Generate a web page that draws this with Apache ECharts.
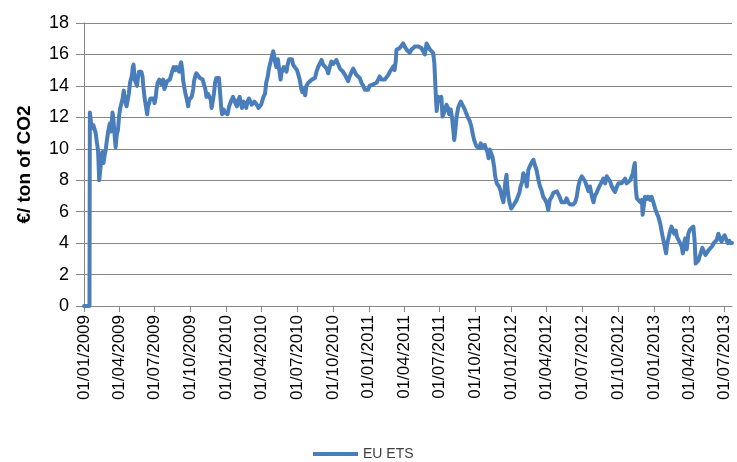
<!DOCTYPE html>
<html>
<head>
<meta charset="utf-8">
<script src="https://cdn.jsdelivr.net/npm/echarts@6/dist/echarts.min.js"></script>
<style>
  html, body { margin: 0; padding: 0; background: #fff; }
  #chart { width: 737px; height: 462px; }
</style>
</head>
<body>
<div id="chart"></div>
<script>
// EU ETS price, days counted from 01/01/2009
var startYear = 2009;
var dayOffsets = [
  0, 14, 15, 18, 21, 24, 27, 30, 33, 36, 39, 42, 44, 47, 50, 53, 56, 59, 62, 66,
  69, 73, 75, 78, 81, 84, 87, 90, 93, 96, 99, 102, 104, 107, 109, 112, 115, 118, 121, 123,
  125, 127, 130, 133, 136, 138, 141, 144, 147, 150, 152, 155, 158, 162, 164, 167, 170, 173, 175, 178,
  181, 184, 186, 189, 193, 196, 199, 203, 206, 210, 213, 217, 220, 223, 227, 230, 234, 237, 240, 244,
  247, 249, 252, 254, 257, 261, 264, 267, 269, 273, 276, 280, 282, 285, 288, 291, 293, 297, 300, 304,
  307, 311, 314, 318, 321, 325, 327, 330, 333, 336, 339, 343, 346, 349, 352, 354, 358, 361, 364, 368,
  372, 375, 378, 382, 385, 388, 392, 395, 399, 402, 405, 409, 412, 416, 419, 423, 426, 430, 434, 437,
  440, 443, 447, 450, 454, 457, 460, 464, 467, 471, 474, 478, 481, 485, 487, 490, 493, 497, 500, 504,
  506, 509, 512, 516, 519, 522, 526, 529, 533, 536, 540, 543, 546, 550, 553, 557, 560, 564, 567, 570,
  575, 580, 584, 588, 592, 596, 600, 605, 609, 613, 617, 622, 626, 630, 634, 639, 643, 647, 651, 656,
  660, 664, 669, 673, 677, 681, 686, 690, 694, 698, 703, 707, 711, 716, 720, 724, 728, 732, 737, 741,
  745, 750, 754, 758, 763, 767, 771, 776, 780, 784, 788, 793, 796, 799, 801, 805, 809, 814, 818, 822,
  827, 831, 835, 839, 844, 848, 853, 857, 861, 865, 870, 874, 878, 882, 887, 891, 895, 898, 900, 902,
  904, 906, 909, 912, 916, 919, 922, 926, 929, 933, 936, 940, 943, 947, 949, 952, 955, 959, 962, 966,
  969, 972, 976, 979, 983, 986, 989, 993, 996, 1000, 1003, 1006, 1010, 1013, 1017, 1020, 1024, 1027, 1030, 1034,
  1037, 1040, 1044, 1047, 1051, 1054, 1058, 1061, 1064, 1068, 1071, 1075, 1078, 1080, 1083, 1085, 1088, 1091, 1095, 1098,
  1102, 1105, 1109, 1112, 1116, 1119, 1123, 1126, 1129, 1132, 1135, 1139, 1143, 1147, 1152, 1156, 1160, 1165, 1169, 1173,
  1177, 1182, 1186, 1190, 1194, 1199, 1203, 1207, 1212, 1216, 1220, 1224, 1229, 1233, 1237, 1241, 1246, 1250, 1254, 1259,
  1263, 1267, 1271, 1276, 1280, 1284, 1289, 1293, 1297, 1302, 1306, 1310, 1314, 1318, 1323, 1327, 1331, 1336, 1340, 1344,
  1349, 1353, 1357, 1361, 1366, 1370, 1374, 1378, 1383, 1387, 1391, 1395, 1400, 1404, 1407, 1410, 1412, 1414, 1417, 1421,
  1426, 1430, 1432, 1435, 1438, 1442, 1446, 1451, 1455, 1460, 1464, 1468, 1472, 1477, 1481, 1485, 1490, 1492, 1495, 1499,
  1502, 1506, 1510, 1513, 1517, 1520, 1524, 1528, 1532, 1535, 1538, 1541, 1545, 1549, 1553, 1557, 1562, 1565, 1568, 1571,
  1575, 1578, 1582, 1585, 1589, 1593, 1597, 1601, 1605, 1610, 1614, 1618, 1622, 1626, 1630, 1634, 1638, 1642, 1646, 1650,
  1654, 1657, 1661
];
var prices = [
  0, 0, 12.3, 11.7, 11.3, 11.5, 11.4, 11.0, 10.4, 9.9, 8.0, 8.1, 9.2, 9.8, 9.1, 9.6, 10.0, 10.6, 11.1, 11.6,
  11.1, 12.3, 12.0, 11.0, 10.1, 10.9, 11.2, 12.1, 12.6, 12.9, 13.2, 13.7, 13.3, 12.9, 12.7, 13.1, 13.5, 14.2, 14.3, 14.7,
  15.2, 15.35, 14.4, 14.3, 14.0, 14.5, 14.9, 14.8, 14.9, 14.6, 14.0, 13.3, 12.8, 12.2, 12.7, 12.9, 13.2, 13.1, 13.3, 13.2,
  12.9, 13.3, 13.8, 14.2, 14.4, 14.3, 14.1, 14.4, 13.8, 13.9, 14.3, 14.2, 14.4, 14.5, 15.0, 15.2, 15.0, 15.2, 15.1, 14.9,
  15.35, 15.5, 15.0, 14.4, 13.9, 13.4, 13.1, 12.7, 13.1, 13.0, 13.3, 13.8, 14.3, 14.6, 14.8, 14.9, 14.7, 14.5, 14.6, 14.4,
  14.3, 13.8, 13.3, 13.5, 13.4, 13.1, 12.6, 13.0, 13.5, 14.2, 14.5, 14.4, 14.5, 13.5, 12.5, 12.2, 12.5, 12.3, 12.4, 12.2,
  12.7, 12.9, 13.1, 13.3, 13.2, 12.9, 12.7, 13.1, 13.3, 12.9, 12.6, 13.0, 12.8, 12.6, 13.0, 13.2, 13.1, 12.8, 12.7, 13.0,
  12.9, 12.8, 12.6, 12.5, 12.8, 12.9, 13.3, 13.5, 14.2, 14.6, 15.1, 15.5, 15.8, 16.2, 16.0, 15.5, 15.2, 15.7, 15.1, 14.4,
  14.8, 14.9, 15.2, 15.1, 14.9, 15.35, 15.7, 15.75, 15.7, 15.35, 15.2, 15.1, 15.0, 14.9, 14.4, 13.8, 13.6, 13.8, 13.4, 14.0,
  14.2, 14.3, 14.4, 14.4, 14.5, 14.9, 15.2, 15.45, 15.65, 15.35, 15.35, 15.1, 14.8, 15.2, 15.55, 15.4, 15.45, 15.65, 15.4, 15.1,
  15.0, 14.9, 14.7, 14.5, 14.3, 14.6, 14.9, 15.1, 14.9, 14.7, 14.7, 14.5, 14.2, 14.0, 13.75, 13.65, 13.75, 14.0, 13.9, 14.1,
  14.0, 14.2, 14.4, 14.6, 14.4, 14.3, 14.4, 14.5, 14.7, 14.9, 14.9, 15.25, 15.0, 15.55, 16.3, 16.3, 16.4, 16.5, 16.7, 16.5,
  16.3, 16.2, 16.1, 16.3, 16.2, 16.5, 16.6, 16.5, 16.6, 16.4, 16.3, 16.0, 16.7, 16.6, 16.3, 16.2, 16.1, 15.45, 14.4, 13.3,
  12.4, 12.9, 13.3, 13.1, 13.3, 12.05, 11.95, 12.5, 12.8, 12.6, 12.2, 12.5, 12.05, 11.1, 10.55, 11.2, 12.05, 12.6, 12.8, 13.0,
  13.1, 12.7, 12.5, 12.3, 12.05, 11.95, 11.75, 11.4, 11.0, 10.55, 10.45, 10.15, 10.25, 10.05, 10.35, 10.05, 10.15, 10.25, 10.15, 9.8,
  9.4, 9.95, 10.05, 9.5, 8.9, 8.25, 7.8, 7.9, 7.6, 7.3, 6.95, 6.6, 7.3, 7.9, 8.35, 7.6, 6.95, 6.55, 6.2, 6.1,
  6.45, 6.55, 6.75, 6.95, 7.2, 7.6, 7.9, 8.45, 8.5, 8.1, 7.6, 8.65, 8.9, 9.1, 9.3, 8.95, 8.65, 8.0, 7.6, 7.35,
  6.95, 6.75, 6.55, 6.1, 6.75, 6.95, 7.2, 7.1, 7.3, 7.4, 6.9, 6.6, 6.55, 6.6, 6.85, 6.6, 6.45, 6.35, 6.45, 6.6,
  6.95, 7.6, 8.0, 8.25, 8.25, 7.95, 7.6, 7.3, 7.6, 6.95, 6.6, 7.05, 7.2, 7.45, 7.7, 7.9, 8.1, 7.8, 8.25, 8.25,
  7.9, 7.6, 7.4, 7.25, 7.6, 7.8, 7.7, 7.8, 7.9, 8.1, 7.8, 7.7, 8.0, 8.25, 8.45, 8.9, 9.1, 7.6, 6.85, 6.75,
  6.6, 6.75, 5.8, 6.4, 6.95, 6.8, 6.95, 6.75, 6.95, 6.55, 6.2, 5.9, 5.7, 5.25, 4.7, 4.2, 3.6, 3.35, 4.0, 4.4,
  4.75, 5.05, 5.0, 4.6, 4.8, 4.4, 4.3, 4.0, 3.8, 3.35, 4.0, 4.3, 3.6, 4.6, 4.85, 4.95, 5.05, 4.2, 2.7, 2.75,
  2.9, 3.15, 3.05, 3.7, 3.6, 3.25, 3.35, 3.55, 3.45, 3.8, 4.0, 4.0, 4.2, 4.6, 4.5, 4.1, 4.2, 4.5, 4.5, 4.0,
  4.15, 4.0, 4.0
];
// quarterly tick dates: [year, month index]
var tickMonths = [
  [2009, 0], [2009, 3], [2009, 6], [2009, 9],
  [2010, 0], [2010, 3], [2010, 6], [2010, 9],
  [2011, 0], [2011, 3], [2011, 6], [2011, 9],
  [2012, 0], [2012, 3], [2012, 6], [2012, 9],
  [2013, 0], [2013, 3], [2013, 6]
];
var axisEndDay = 1661;

var DAY = 24 * 3600 * 1000;
var base = Date.UTC(startYear, 0, 1);
function dayOf(y, m) {
  return Math.round((Date.UTC(y, m, 1) - base) / DAY);
}
function pad(n) {
  return n < 10 ? '0' + n : '' + n;
}

var seriesData = [];
for (var i = 0; i < dayOffsets.length; i++) {
  seriesData.push([dayOffsets[i], prices[i]]);
}
var tickValues = tickMonths.map(function (t) {
  return dayOf(t[0], t[1]);
});

var chart = echarts.init(document.getElementById('chart'));
var option = {
  backgroundColor: '#fff',
  animation: false,
  textStyle: { fontFamily: 'Liberation Sans' },
  grid: {
    left: 84,
    right: 5,
    top: 23,
    bottom: 156
  },
  legend: {
    left: 308,
    top: 442,
    icon: 'rect',
    itemWidth: 45,
    itemHeight: 4,
    itemGap: 6,
    textStyle: {
      color: '#404040',
      fontSize: 14,
      fontFamily: 'Liberation Sans'
    },
    data: ['EU ETS']
  },
  xAxis: {
    type: 'value',
    min: 0,
    max: axisEndDay,
    axisLine: {
      lineStyle: { color: '#868686', width: 1 }
    },
    axisTick: {
      show: true,
      length: 6,
      customValues: tickValues,
      lineStyle: { color: '#868686' }
    },
    axisLabel: {
      customValues: tickValues,
      rotate: 90,
      margin: 9,
      color: '#000',
      fontSize: 17,
      hideOverlap: false,
      formatter: function (val) {
        var d = new Date(base + val * DAY);
        return pad(d.getUTCDate()) + '/' + pad(d.getUTCMonth() + 1) + '/' + d.getUTCFullYear();
      }
    },
    splitLine: { show: false }
  },
  yAxis: {
    type: 'value',
    min: 0,
    max: 18,
    interval: 2,
    name: '€/ ton of CO2',
    nameLocation: 'middle',
    nameGap: 50,
    nameTextStyle: {
      color: '#000',
      fontSize: 19,
      fontWeight: 'bold'
    },
    axisLine: {
      show: true,
      lineStyle: { color: '#868686', width: 1 }
    },
    axisTick: {
      show: true,
      length: 8,
      lineStyle: { color: '#868686' }
    },
    axisLabel: {
      margin: 15,
      color: '#000',
      fontSize: 18
    },
    splitLine: {
      show: true,
      lineStyle: { color: '#868686', width: 1 }
    }
  },
  series: [{
    name: 'EU ETS',
    type: 'line',
    showSymbol: false,
    symbol: 'none',
    color: '#4a7ebb',
    lineStyle: {
      width: 4,
      color: '#4a7ebb',
      cap: 'round',
      join: 'round'
    },
    data: seriesData
  }]
};
chart.setOption(option);
</script>
</body>
</html>
